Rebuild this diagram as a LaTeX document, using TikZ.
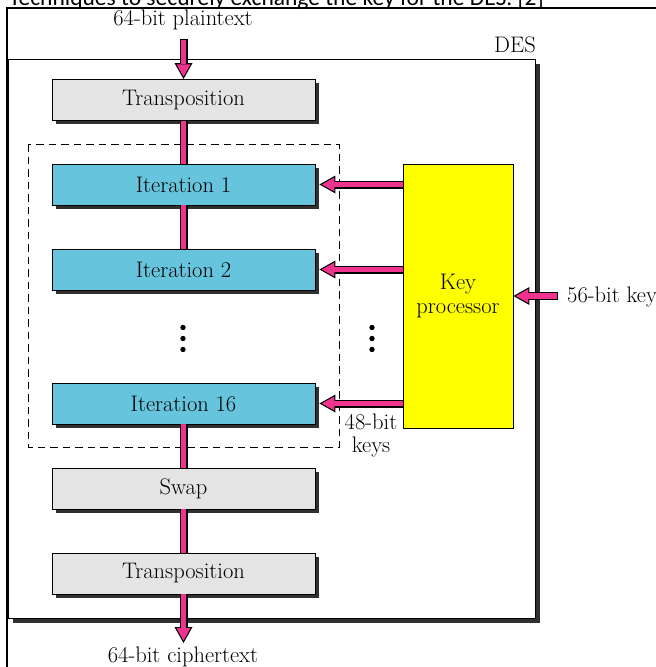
\documentclass[tikz,border=0pt]{standalone}
\usepackage{fontspec}
\newfontfamily\capfont{Carlito}
\usetikzlibrary{arrows.meta,shadows}

\definecolor{despink}{RGB}{238,52,143}
\definecolor{descyan}{RGB}{102,196,221}
\definecolor{desgray}{RGB}{228,228,228}
\definecolor{desyellow}{RGB}{255,255,0}
\definecolor{desshadow}{RGB}{48,48,48}

\tikzset{
	destext/.style={font=\fontsize{22.5}{23.5}\selectfont, inner sep=0pt},
	stagebox/.style={destext, draw=black, line width=0.9pt, minimum width=263pt, minimum height=41pt,
		drop shadow={shadow xshift=3.5pt, shadow yshift=-3.5pt, fill=desshadow, opacity=1}},
	grayblock/.style={stagebox, fill=desgray},
	iterblock/.style={stagebox, fill=descyan},
	fatout/.style={line width=8pt, black, -{Triangle[length=16pt, width=18pt, line width=0pt]}},
	fatin/.style={line width=5.6pt, despink, shorten <=1.2pt, shorten >=2.4pt, -{Triangle[length=12.4pt, width=13.9pt, line width=0pt]}},
	barout/.style={line width=8pt, black},
	barin/.style={line width=5.6pt, despink}
}

\begin{document}
\begin{tikzpicture}[x=1pt, y=-1pt]
	%%%%% START %%%%%
	\useasboundingbox (0,0) rectangle (656,667);
	\clip (0,0) rectangle (656,667);
	
	% cut caption and frame of the page
	\node[anchor=base west, inner sep=0pt, font=\capfont\fontsize{23.5}{26}\selectfont] (caption) at (9,5) {Techniques to securely exchange the key for the DES. [2]};
	\draw[line width=2.2pt] (7,680) -- (7,8) -- (670,8);
	
	% DES box
	\node[draw=black, line width=0.9pt, fill=white, minimum width=527pt, minimum height=559pt, inner sep=0pt,
		drop shadow={shadow xshift=4.5pt, shadow yshift=-4.5pt, fill=desshadow, opacity=1}] (des) at (271.5,338.5) {};
	\node[destext] (deslbl) at (515,45) {DES};
	
	\draw[line width=0.9pt, dash pattern=on 7.5pt off 5pt] (28,144) rectangle (339,447);
	
	% stages
	\node[grayblock] (tr1) at (183.5,100) {Transposition};
	\node[iterblock] (it1) at (183.5,184.5) {Iteration 1};
	\node[iterblock] (it2) at (183.5,269.5) {Iteration 2};
	\node[iterblock] (it16) at (183.5,403.5) {Iteration 16};
	\node[grayblock] (swap) at (183.5,488.5) {Swap};
	\node[grayblock] (tr2) at (183.5,573.5) {Transposition};
	
	\node[destext, draw=black, line width=0.9pt, fill=desyellow, minimum width=110pt, minimum height=264pt, align=center] (kp) at (458,296) {Key\\processor};
	
	% in and out
	\node[destext] (pt) at (183,20) {64-bit plaintext};
	\node[destext] (ct) at (183,657) {64-bit ciphertext};
	\node[destext, anchor=west] (kin) at (567,297) {56-bit key};
	\node[destext, align=center] (keys) at (371,435.5) {48-bit\\keys};
	\coordinate (ptend) at (183.5,39);
	\coordinate (ctend) at (183.5,643);
	\coordinate (kinend) at (558,296);
	
	% bars between the stages
	\foreach \a/\b in {tr1/it1, it1/it2, it16/swap, swap/tr2} {
		\draw[barout] (\a.south) -- (\b.north);
		\draw[barin] ([yshift=0.45pt]\a.south) -- ([yshift=-0.45pt]\b.north);
	}
	
	% fat arrows
	\draw[fatout] (ptend) -- (tr1.north);
	\draw[fatin] (ptend) -- (tr1.north);
	\draw[fatout] (tr2.south) -- (ctend);
	\draw[fatin] ([yshift=1.2pt]tr2.south) -- (ctend);
	\draw[fatout] (kinend) -- (kp.east |- kinend);
	\draw[fatin] (kinend) -- (kp.east |- kinend);
	\foreach \s in {it1, it2, it16} {
		\draw[fatout] (kp.west |- \s) -- ([xshift=4pt]\s.east);
		\draw[fatin] ([xshift=1.2pt]kp.west |- \s) -- ([xshift=4pt]\s.east);
	}
	
	% dots
	\foreach \y in {327.5, 338.5, 349.5} {
		\fill (183,\y) circle (2.7);
		\fill (372,\y) circle (2.7);
	}
	
	%%%%% END %%%%%
\end{tikzpicture}
\end{document}
